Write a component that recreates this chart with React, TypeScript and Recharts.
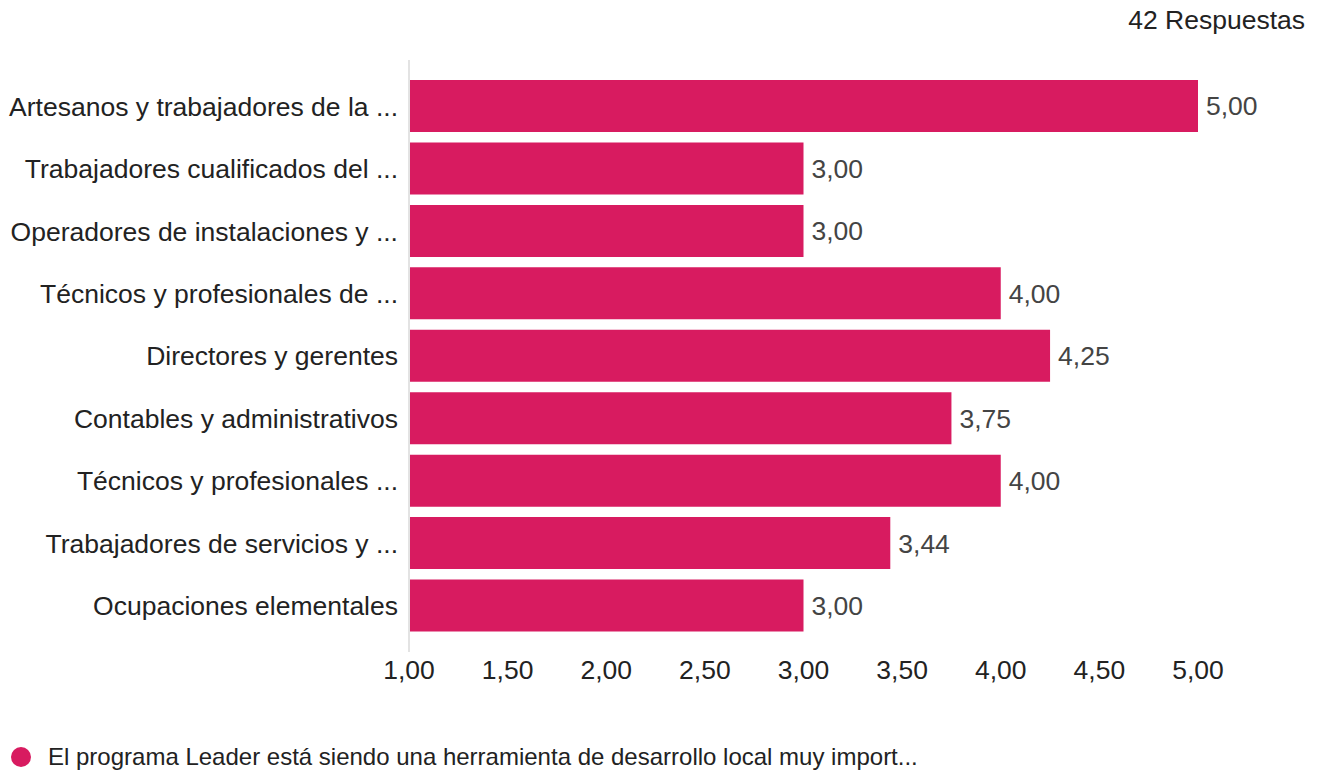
import { BarChart, Bar, XAxis, YAxis, LabelList } from "recharts";

const categories = [
  "Artesanos y trabajadores de la ...",
  "Trabajadores cualificados del ...",
  "Operadores de instalaciones y ...",
  "Técnicos y profesionales de ...",
  "Directores y gerentes",
  "Contables y administrativos",
  "Técnicos y profesionales ...",
  "Trabajadores de servicios y ...",
  "Ocupaciones elementales",
];

const scores = [5.0, 3.0, 3.0, 4.0, 4.25, 3.75, 4.0, 3.44, 3.0];

const xTicks = [1, 1.5, 2, 2.5, 3, 3.5, 4, 4.5, 5];

const seriesName =
  "El programa Leader está siendo una herramienta de desarrollo local muy import...";

const data = categories.map((name, i) => ({ name, value: scores[i] }));

const PINK = "#D81B60";
const FONT = '"Liberation Sans", Arial, sans-serif';
const FS = 26.5;

const fmt = (v: number) => v.toFixed(2).replace(".", ",");

export default function App() {
  return (
    <div
      style={{
        position: "absolute",
        left: 0,
        top: 0,
        width: 1323,
        height: 773,
        background: "#fff",
        fontFamily: FONT,
      }}
    >
      <div
        style={{
          position: "absolute",
          right: 18,
          top: 5,
          fontSize: FS,
          color: "#222",
          lineHeight: "30px",
        }}
      >
        42 Respuestas
      </div>
      <BarChart
        width={1323}
        height={773}
        data={data}
        layout="vertical"
        margin={{ top: 60, right: 125, bottom: 91, left: 0 }}
        barSize={52}
      >
        <XAxis
          type="number"
          domain={[1, 5]}
          ticks={xTicks}
          allowDataOverflow
          tickFormatter={fmt}
          axisLine={false}
          tickLine={false}
          height={30}
          tick={{ fontSize: FS, fill: "#222", fontFamily: FONT }}
        />
        <YAxis
          type="category"
          dataKey="name"
          width={409}
          padding={{ top: 15, bottom: 15 }}
          axisLine={{ stroke: "#e3e3e3", strokeWidth: 2 }}
          tickLine={false}
          tickMargin={5}
          tick={{ fontSize: FS, fill: "#222", fontFamily: FONT }}
        />
        <Bar dataKey="value" fill={PINK} isAnimationActive={false}>
          <LabelList
            dataKey="value"
            position="right"
            offset={8}
            formatter={(v: number) => fmt(v)}
            style={{ fontSize: FS, fill: "#444", fontFamily: FONT }}
          />
        </Bar>
      </BarChart>
      <div
        style={{
          position: "absolute",
          left: 11,
          top: 743,
          display: "flex",
          alignItems: "center",
          height: 28,
        }}
      >
        <span
          style={{
            width: 20,
            height: 20,
            borderRadius: "50%",
            background: PINK,
            display: "inline-block",
            marginRight: 17,
          }}
        />
        <span style={{ fontSize: 24, color: "#222" }}>{seriesName}</span>
      </div>
    </div>
  );
}
